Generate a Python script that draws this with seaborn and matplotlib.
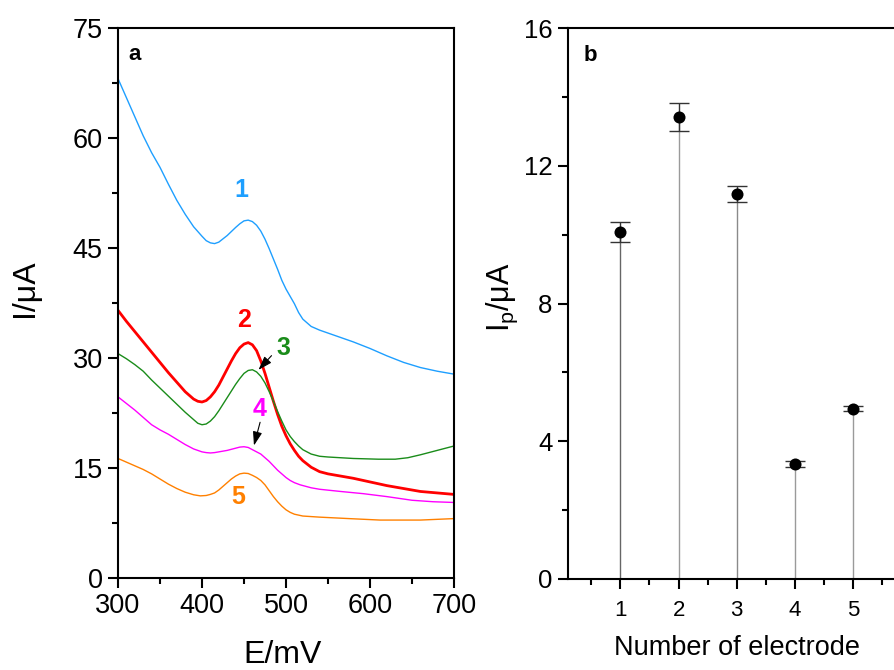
import numpy as np
import pandas as pd
import matplotlib
matplotlib.use("Agg")
import matplotlib.pyplot as plt
from matplotlib.ticker import MultipleLocator
import seaborn as sns

# ---------------- data: panel a ----------------
E1 = [300, 310, 320, 330, 340, 350, 360, 370, 380, 390, 400, 405, 410, 415, 420, 430, 440, 445, 450, 455, 460, 465, 470, 475, 480, 485, 490, 495, 500, 505, 510, 515, 520, 530, 540, 560, 580, 600, 620, 640, 660, 680, 700]
I1 = [68.1, 65.5, 62.9, 60.3, 58.0, 56.0, 53.7, 51.5, 49.6, 47.9, 46.6, 46.0, 45.7, 45.6, 45.8, 46.7, 47.8, 48.3, 48.7, 48.8, 48.6, 48.1, 47.3, 46.2, 44.9, 43.5, 42.1, 40.6, 39.4, 38.4, 37.4, 36.2, 35.3, 34.3, 33.8, 33.0, 32.2, 31.3, 30.3, 29.4, 28.7, 28.2, 27.8]

E2 = [300, 310, 320, 330, 340, 350, 360, 370, 380, 390, 395, 400, 405, 410, 415, 420, 425, 430, 435, 440, 445, 450, 455, 460, 465, 470, 475, 480, 485, 490, 495, 500, 505, 510, 515, 520, 530, 540, 550, 560, 580, 600, 620, 640, 660, 680, 700]
I2 = [36.5, 35.0, 33.6, 32.2, 30.8, 29.4, 28.0, 26.7, 25.4, 24.4, 24.1, 24.0, 24.2, 24.7, 25.4, 26.3, 27.4, 28.5, 29.6, 30.6, 31.4, 31.9, 32.1, 31.8, 31.0, 29.6, 27.9, 26.0, 24.1, 22.3, 20.7, 19.4, 18.3, 17.4, 16.6, 16.0, 15.1, 14.5, 14.2, 14.0, 13.6, 13.1, 12.6, 12.2, 11.8, 11.6, 11.4]

E3 = [300, 310, 320, 330, 340, 350, 360, 370, 380, 390, 395, 400, 405, 410, 415, 420, 425, 430, 435, 440, 445, 450, 455, 460, 465, 470, 475, 480, 485, 490, 495, 500, 505, 510, 515, 520, 530, 540, 550, 580, 610, 630, 645, 660, 680, 700]
I3 = [30.6, 29.9, 29.1, 28.2, 27.0, 25.9, 24.8, 23.7, 22.6, 21.6, 21.1, 20.9, 21.0, 21.4, 22.0, 22.8, 23.7, 24.6, 25.5, 26.4, 27.2, 27.9, 28.3, 28.4, 28.1, 27.5, 26.6, 25.4, 24.1, 22.7, 21.4, 20.2, 19.3, 18.6, 18.0, 17.5, 16.9, 16.6, 16.5, 16.3, 16.2, 16.2, 16.4, 16.8, 17.4, 18.0]

E4 = [300, 310, 320, 330, 340, 350, 360, 370, 380, 390, 400, 405, 410, 415, 420, 430, 440, 445, 450, 455, 460, 465, 470, 475, 480, 485, 490, 495, 500, 505, 510, 517, 530, 540, 565, 592, 620, 650, 675, 700]
I4 = [24.7, 23.8, 22.9, 21.9, 20.9, 20.2, 19.6, 18.9, 18.2, 17.6, 17.2, 17.1, 17.05, 17.1, 17.2, 17.4, 17.7, 17.85, 17.9, 17.8, 17.5, 17.2, 16.9, 16.4, 15.9, 15.3, 14.7, 14.2, 13.7, 13.3, 13.0, 12.7, 12.3, 12.1, 11.8, 11.5, 11.1, 10.6, 10.4, 10.3]

E5 = [300, 310, 320, 330, 340, 350, 360, 370, 380, 390, 398, 405, 410, 415, 420, 425, 430, 435, 440, 445, 450, 455, 460, 465, 470, 475, 480, 485, 490, 495, 500, 505, 510, 520, 540, 575, 612, 660, 700]
I5 = [16.3, 15.8, 15.3, 14.8, 14.2, 13.5, 12.8, 12.2, 11.7, 11.35, 11.2, 11.25, 11.4, 11.6, 12.0, 12.5, 13.0, 13.5, 13.9, 14.2, 14.3, 14.25, 14.0, 13.7, 13.3, 12.7, 11.9, 11.1, 10.4, 9.8, 9.3, 8.95, 8.7, 8.45, 8.3, 8.1, 7.9, 7.9, 8.1]

curve_names = ["1", "2", "3", "4", "5"]
curve_colors = ["#1E9FFF", "#FF0000", "#1A8C1A", "#FF00FF", "#FF8000"]

# ---------------- data: panel b ----------------
electrode = [1, 2, 3, 4, 5]
ip_mean = [10.07, 13.41, 11.17, 3.33, 4.94]
ip_err = [0.29, 0.40, 0.23, 0.09, 0.07]

# ---------------- style ----------------
sns.set_style("ticks")
plt.rcParams["font.family"] = ["Liberation Sans", "DejaVu Sans"]
plt.rcParams["mathtext.fontset"] = "custom"
plt.rcParams["mathtext.rm"] = "Liberation Sans"
plt.rcParams["mathtext.it"] = "Liberation Sans:italic"
plt.rcParams["text.color"] = "black"
plt.rcParams["axes.labelcolor"] = "black"
plt.rcParams["xtick.color"] = "black"
plt.rcParams["ytick.color"] = "black"
plt.rcParams["xtick.labelcolor"] = "black"
plt.rcParams["ytick.labelcolor"] = "black"

fig = plt.figure(figsize=(8.95, 6.70), dpi=100)
axa = fig.add_axes([118 / 895, 92 / 670, 336 / 895, 550 / 670])
axb = fig.add_axes([568 / 895, 91 / 670, 343.4 / 895, 551 / 670])

# ---------------- panel a ----------------
Es = [E1, E2, E3, E4, E5]
Is = [I1, I2, I3, I4, I5]
lws = [1.0, 2.0, 1.0, 1.0, 1.0]
for name, E, I, c, lw in zip(curve_names, Es, Is, curve_colors, lws):
    df = pd.DataFrame({"E": E, "I": I})
    sns.lineplot(data=df, x="E", y="I", ax=axa, color=c, linewidth=lw, sort=False)

axa.set_xlim(300, 700)
axa.set_ylim(0, 75)
axa.xaxis.set_major_locator(MultipleLocator(100))
axa.xaxis.set_minor_locator(MultipleLocator(50))
axa.yaxis.set_major_locator(MultipleLocator(15))
axa.yaxis.set_minor_locator(MultipleLocator(7.5))
axa.set_xlabel("E/mV", fontsize=23, color="black")
axa.set_ylabel("I/\u03bcA", fontsize=23, color="black")
axa.xaxis.set_label_coords(0.491, -0.14)
axa.xaxis.label.set_verticalalignment("center")
axa.yaxis.set_label_coords(-0.277, 0.527)
axa.yaxis.label.set_verticalalignment("center")

label_pos = [(447, 52.9), (450, 35.2), (497, 31.4), (469, 23.1), (443, 11.0)]
for name, (x, y), c in zip(curve_names, label_pos, curve_colors):
    axa.text(x, y, name, color=c, fontsize=18, fontweight="bold", ha="center", va="center")

axa.annotate("", xy=(465, 28.1), xytext=(485, 30.6),
             arrowprops=dict(arrowstyle="-|>,head_length=0.6,head_width=0.2",
                             color="black", lw=0.8, mutation_scale=14))
axa.annotate("", xy=(461, 17.7), xytext=(470, 21.6),
             arrowprops=dict(arrowstyle="-|>,head_length=0.6,head_width=0.2",
                             color="black", lw=0.8, mutation_scale=14))
axa.text(0.03, 0.97, "a", transform=axa.transAxes, fontsize=16, fontweight="bold",
         ha="left", va="top", color="black")

# ---------------- panel b ----------------
stem_colors = ["#666666", "#9a9a9a", "#8a8a8a", "#9a9a9a", "#9a9a9a"]
axb.vlines(electrode, 0, ip_mean, colors=stem_colors, linewidth=1.0, zorder=1)
axb.errorbar(electrode, ip_mean, yerr=ip_err, fmt="none", ecolor="#333333",
             elinewidth=1.0, capsize=7.5, capthick=1.0, zorder=2)
dfb = pd.DataFrame({"n": electrode, "ip": ip_mean})
sns.scatterplot(data=dfb, x="n", y="ip", ax=axb, color="black", s=75,
                edgecolor="black", linewidth=0, zorder=3)

axb.set_xlim(0.1, 6.0)
axb.set_ylim(0, 16)
axb.set_xticks(electrode)
axb.set_xticklabels([str(v) for v in electrode])
axb.xaxis.set_minor_locator(MultipleLocator(0.5))
axb.yaxis.set_major_locator(MultipleLocator(4))
axb.yaxis.set_minor_locator(MultipleLocator(2))
axb.set_xlabel("Number of electrode", fontsize=19.5, color="black")
axb.set_ylabel("I$_\\mathrm{p}$/\u03bcA", fontsize=22, color="black")
axb.xaxis.set_label_coords(0.491, -0.125)
axb.xaxis.label.set_verticalalignment("center")
axb.yaxis.set_label_coords(-0.192, 0.512)
axb.yaxis.label.set_verticalalignment("center")
axb.text(0.045, 0.97, "b", transform=axb.transAxes, fontsize=16, fontweight="bold",
         ha="left", va="top", color="black")

for ax in (axa, axb):
    for sp in ax.spines.values():
        sp.set_linewidth(1.5)
        sp.set_color("black")
    ax.tick_params(which="major", direction="out", length=7, width=1.5, color="black",
                   labelcolor="black", top=False, right=False)
    ax.tick_params(which="minor", direction="out", length=4, width=1.5, color="black",
                   top=False, right=False)
axa.tick_params(axis="both", which="major", labelsize=19.5, pad=4)
axb.tick_params(axis="y", which="major", labelsize=18.5, pad=4)
axb.tick_params(axis="x", which="major", labelsize=16, pad=8)

fig.savefig("out.png", dpi=100)
